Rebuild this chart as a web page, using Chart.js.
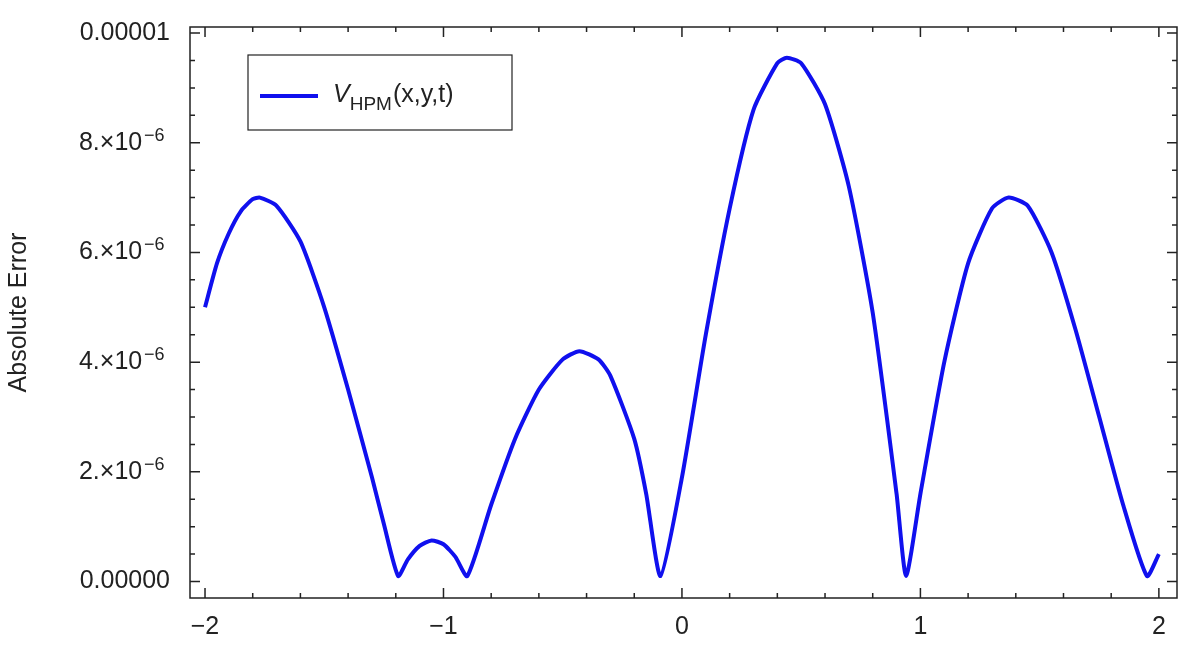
<!DOCTYPE html>
<html><head><style>body{margin:0;background:#fff}#w{width:1201px;height:651px}</style>
<script src="https://cdn.jsdelivr.net/npm/chart.js@4"></script></head>
<body><div id="w"><canvas id="c"></canvas></div>
<script>
const xs=[-2,-1.95,-1.9,-1.85,-1.8,-1.77,-1.7,-1.6,-1.5,-1.4,-1.3,-1.25,-1.19,-1.15,-1.1,-1.05,-1.0,-0.95,-0.9,-0.8,-0.7,-0.6,-0.5,-0.43,-0.35,-0.3,-0.2,-0.15,-0.09,0,0.1,0.2,0.3,0.4,0.44,0.5,0.6,0.7,0.8,0.9,0.94,1.0,1.1,1.2,1.3,1.37,1.45,1.55,1.65,1.75,1.85,1.95,2.0];
const ys=[5.0,5.8,6.35,6.75,6.97,7.0,6.85,6.2,5.0,3.5,1.9,1.05,0.1,0.4,0.65,0.75,0.68,0.45,0.1,1.4,2.6,3.5,4.05,4.2,4.05,3.75,2.6,1.6,0.1,1.9,4.5,6.8,8.6,9.45,9.55,9.45,8.7,7.2,4.9,1.6,0.1,1.6,4.0,5.8,6.8,7.0,6.85,6.0,4.6,3.0,1.4,0.1,0.5];
const xTicks=[-2,-1,0,1,2];
const yTicks=[0,2e-6,4e-6,6e-6,8e-6,1e-5];
const yLabels=["0.00000","2.×10","4.×10","6.×10","8.×10","0.00001"];
const pts=xs.map((x,i)=>({x,y:ys[i]*1e-6}));
const F='"Liberation Sans", Arial, sans-serif';
const deco={id:'deco',afterDraw(ch){
 const g=ch.ctx,a=ch.chartArea,X=ch.scales.x,Y=ch.scales.y;
 g.save();g.strokeStyle='#222';g.lineWidth=1.5;
 g.strokeRect(a.left,a.top,a.right-a.left,a.bottom-a.top);
 g.beginPath();
 for(let v=-2;v<=2.001;v+=0.2){const p=X.getPixelForValue(v);const maj=Math.abs(v-Math.round(v))<1e-6;const L=maj?10:5;
  g.moveTo(p,a.bottom);g.lineTo(p,a.bottom-L);g.moveTo(p,a.top);g.lineTo(p,a.top+L);}
 for(let v=0;v<=1.001e-5;v+=0.5e-6){const p=Y.getPixelForValue(v);const maj=Math.abs(v/2e-6-Math.round(v/2e-6))<1e-6;const L=maj?10:5;
  g.moveTo(a.left,p);g.lineTo(a.left+L,p);g.moveTo(a.right,p);g.lineTo(a.right-L,p);}
 g.stroke();
 // superscripts for y labels
 g.fillStyle='#222';g.textBaseline='alphabetic';g.textAlign='left';
 for(let i=1;i<5;i++){const p=Y.getPixelForValue(yTicks[i]);g.font='18px '+F;g.fillText('−6',a.left-46,p-2);}
 // legend
 g.fillStyle='#fff';g.fillRect(248,55,264,75);g.strokeStyle='#222';g.lineWidth=1.2;g.strokeRect(248,55,264,75);
 g.strokeStyle='#1010ee';g.lineWidth=4;g.beginPath();g.moveTo(260,96);g.lineTo(318,96);g.stroke();
 g.fillStyle='#222';
 g.font='italic 25px '+F;g.fillText('V',333,102);let w=g.measureText('V').width;
 g.font='19px '+F;g.fillText('HPM',333+w,110);let w2=g.measureText('HPM').width;
 g.font='25px '+F;g.fillText('(x,y,t)',333+w+w2+1,102);
 g.restore();}};
new Chart(document.getElementById('c'),{type:'line',
 data:{datasets:[{data:pts,borderColor:'#1010ee',borderWidth:4,pointRadius:0,tension:0.2,fill:false}]},
 options:{responsive:true,maintainAspectRatio:false,animation:false,
  layout:{padding:{top:-5,right:24,left:0,bottom:0}},
  plugins:{legend:{display:false},tooltip:{enabled:false}},
  scales:{
   x:{type:'linear',min:-2.063,max:2.076,afterBuildTicks(s){s.ticks=xTicks.map(v=>({value:v}));},
    afterFit(s){s.height=53;},
    grid:{display:false},border:{display:false},
    ticks:{font:{size:25,family:F},color:'#222',padding:6,callback:v=>v<0?'−'+(-v):String(v)}},
   y:{min:-0.3e-6,max:1.011e-5,afterBuildTicks(s){s.ticks=yTicks.map(v=>({value:v}));},
    afterFit(s){s.width=190;},
    grid:{display:false},border:{display:false},
    title:{display:true,text:'Absolute Error',font:{size:25,family:F},color:'#222',padding:{bottom:4}},
    ticks:{font:{size:25,family:F},color:'#222',padding:12,
     callback:(v)=>{const i=yTicks.findIndex(t=>Math.abs(t-v)<1e-12);if(i<0)return '';return (i>0&&i<5)?yLabels[i]+'\u2007\u2007':yLabels[i];}}}
  }},plugins:[deco]});
</script></body></html>
